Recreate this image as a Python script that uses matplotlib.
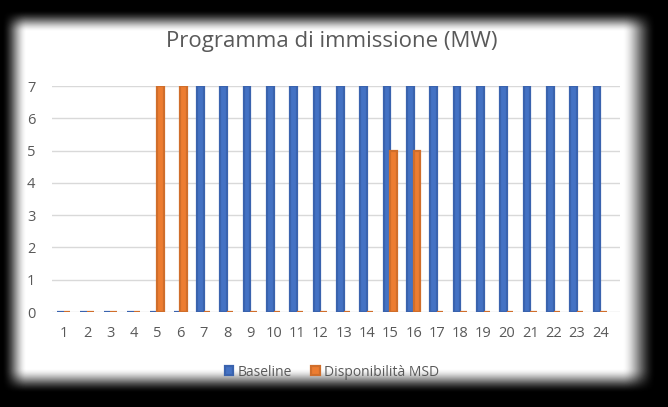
import numpy as np
import matplotlib
matplotlib.use("Agg")
import matplotlib.pyplot as plt

hours = [str(h) for h in range(1, 25)]
baseline = [0, 0, 0, 0, 0, 0, 7, 7, 7, 7, 7, 7, 7, 7, 7, 7, 7, 7, 7, 7, 7, 7, 7, 7]
msd = [0, 0, 0, 0, 7, 7, 0, 0, 0, 0, 0, 0, 0, 0, 5, 5, 0, 0, 0, 0, 0, 0, 0, 0]
yticks = [0, 1, 2, 3, 4, 5, 6, 7]
title = "Programma di immissione (MW)"
series_names = ["Baseline", "Disponibilità MSD"]

W, H = 668, 407
fig = plt.figure(figsize=(W / 100, H / 100), dpi=100, facecolor="black")

# glowing white panel
def ramp(n, a0, a1, b1, b0):
    x = np.arange(n) + 0.5
    up = np.clip((x - a0) / (a1 - a0), 0, 1)
    down = np.clip((b0 - x) / (b0 - b1), 0, 1)
    s = np.minimum(up, down)
    return s * s * (3 - 2 * s)

ax_bg = fig.add_axes([0, 0, 1, 1])
ax_bg.set_axis_off()
rx = ramp(W, 2, 27, 622, 656)
ry = ramp(H, 10, 32, 368, 393)
panel = np.outer(ry, rx)
ax_bg.imshow(panel, cmap="gray", vmin=0, vmax=1, extent=[0, W, H, 0], aspect="auto", interpolation="bilinear")
ax_bg.set_xlim(0, W)
ax_bg.set_ylim(H, 0)

font = ["Open Sans", "DejaVu Sans"]
gray = "#595959"

left, right, top, bottom = 52, 620, 86, 312
ax = fig.add_axes([left / W, 1 - bottom / H, (right - left) / W, (bottom - top) / H])
ax.patch.set_alpha(0)

x = np.arange(1, len(hours) + 1)
w = 0.28
blue = "#4472C4"
orange = "#ED7D31"
ax.bar(x - w / 2, baseline, width=w, color=blue, edgecolor="#3A63AE", linewidth=1.6, zorder=3, label=series_names[0])
ax.bar(x + w / 2, msd, width=w, color=orange, edgecolor="#D06E2B", linewidth=1.6, zorder=3, label=series_names[1])

ax.set_xlim(0.5, 24.85)
ax.set_ylim(0, 7)
ax.set_yticks(yticks)
ax.set_yticklabels([str(v) for v in yticks])
ax.set_xticks(x)
ax.set_xticklabels(hours)
for s in ax.spines.values():
    s.set_visible(False)
ax.grid(axis="y", color="#D9D9D9", linewidth=1.0, zorder=0)
ax.set_axisbelow(True)
ax.tick_params(axis="both", length=0, colors=gray, labelsize=10.5)
ax.tick_params(axis="x", pad=10)
ax.tick_params(axis="y", pad=12)
for lab in ax.get_xticklabels() + ax.get_yticklabels():
    lab.set_fontfamily(font)
    lab.set_color(gray)

fig.text(332 / W, 1 - 42 / H, title, ha="center", va="center", fontsize=16, color=gray, family=font)

leg = fig.legend(loc="center", bbox_to_anchor=(332 / W, 1 - 372 / H), ncol=2, frameon=False,
                 prop={"family": font, "size": 10}, handlelength=0.6, handleheight=0.6,
                 handletextpad=0.3, columnspacing=1.4, labelcolor=gray)

fig.savefig("out.png", dpi=100, facecolor="black")
